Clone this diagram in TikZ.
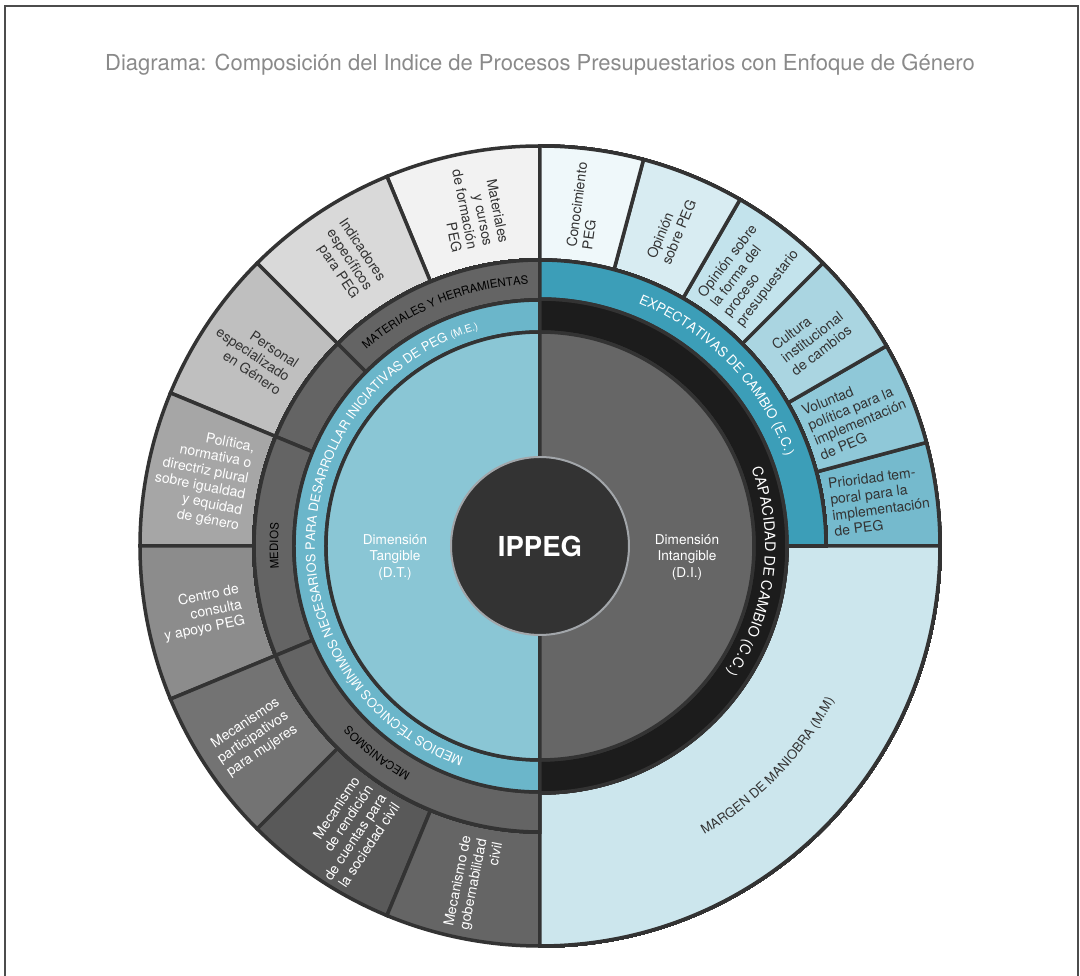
\documentclass[tikz,border=0pt]{standalone}
\usepackage{fontspec}
\setmainfont{TeX Gyre Heros}
\usepackage{tikz}
\usetikzlibrary{decorations.text}

\definecolor{borde}{HTML}{333333}
\definecolor{nucleo}{HTML}{333333}
\definecolor{aro}{HTML}{A2A6AA}
\definecolor{tangible}{HTML}{8AC6D5}
\definecolor{intangible}{HTML}{666666}
\definecolor{minimos}{HTML}{6BB6CA}
\definecolor{medios}{HTML}{646464}
\definecolor{capacidad}{HTML}{1C1C1C}
\definecolor{expectativas}{HTML}{3C9EB8}
\definecolor{margen}{HTML}{CCE6ED}
\definecolor{titulo}{HTML}{8A8A8A}
\definecolor{oscuro}{HTML}{333333}
\definecolor{gA}{HTML}{F2F2F2}
\definecolor{gB}{HTML}{D9D9D9}
\definecolor{gC}{HTML}{BFBFBF}
\definecolor{gD}{HTML}{A6A6A6}
\definecolor{gE}{HTML}{8C8C8C}
\definecolor{gF}{HTML}{737373}
\definecolor{gG}{HTML}{595959}
\definecolor{gH}{HTML}{656565}
\definecolor{bA}{HTML}{EFF8FA}
\definecolor{bB}{HTML}{D8ECF2}
\definecolor{bC}{HTML}{C3E3EC}
\definecolor{bD}{HTML}{AAD5E1}
\definecolor{bE}{HTML}{8FC8D8}
\definecolor{bF}{HTML}{75BACD}

\newcommand{\etiq}{\fontsize{14}{16}\selectfont}
\newcommand{\banda}{\fontsize{13.4}{15}\selectfont}
\newcommand{\chica}{\fontsize{11.5}{13}\selectfont}
% sector de anillo: r1, r2, angulo inicial, angulo final, relleno
\newcommand{\anillo}[5]{\filldraw[fill=#5] (#3:#1) arc[start angle=#3, end angle=#4, radius=#1] -- (#4:#2) arc[start angle=#4, end angle=#3, radius=#2] -- cycle;}

\begin{document}
\begin{tikzpicture}[x=1pt, y=1pt, line width=3.5pt, draw=borde,
		izq/.style={align=right, font=\etiq, inner sep=0pt},
		der/.style={align=left, font=\etiq, inner sep=0pt, text=oscuro}]
		\useasboundingbox (-540,-430) rectangle (540,546);
		\draw[line width=2pt, draw=black!70] (-535,-435) -- (-535,540) -- (538,540) -- (538,-435);
		\node[font=\fontsize{22}{26}\selectfont, text=titulo] (titulo) at (0,481) {Diagrama: Composición del Indice de Procesos Presupuestarios con Enfoque de Género};
		% anillo exterior
		\foreach \a/\b/\c in {90/112.5/gA, 112.5/135/gB, 135/157.5/gC, 157.5/180/gD, 180/202.5/gE, 202.5/225/gF, 225/247.5/gG, 247.5/270/gH}
			\anillo{286}{400}{\a}{\b}{\c}
		\foreach \a/\b/\c in {0/15/bF, 15/30/bE, 30/45/bD, 45/60/bC, 60/75/bB, 75/90/bA}
			\anillo{286}{400}{\a}{\b}{\c}
		\anillo{247}{400}{-90}{0}{margen}
		% anillo medio
		\foreach \a/\b in {90/135, 135/157.5, 157.5/202.5, 202.5/270}
			\anillo{246}{286}{\a}{\b}{medios}
		\anillo{247}{286}{0}{90}{expectativas}
		\anillo{214}{246}{90}{270}{minimos}
		\anillo{214}{247}{-90}{90}{capacidad}
		% disco interior
		\anillo{0}{214}{90}{270}{tangible}
		\anillo{0}{214}{-90}{90}{intangible}
		\node[circle, fill=nucleo, draw=aro, line width=2pt, minimum size=178pt, inner sep=0pt,
			text=white, font=\fontsize{27.5}{30}\selectfont\bfseries] (ippeg) at (0,0) {IPPEG};
		\node[font=\fontsize{13.6}{16.5}\selectfont, text=white, align=center] (dt) at (-145,-11) {Dimensión\\Tangible\\(D.T.)};
		\node[font=\fontsize{13.6}{16.5}\selectfont, text=white, align=center] (di) at (147,-11) {Dimensión\\Intangible\\(D.I.)};
		% textos curvos
		\path[decorate, decoration={text along path, text align=center,
			text={|\fontsize{12.8}{14}\selectfont\color{white}|MEDIOS TÉCNICOS MÍNIMOS NECESARIOS PARA DESARROLLAR INICIATIVAS DE PEG |\fontsize{10.5}{12}\selectfont\color{white}|(M.E.)}}]
			(262:225) arc[start angle=262, end angle=94, radius=225];
		\path[decorate, decoration={text along path, text align=center,
			text={|\banda\color{white}|EXPECTATIVAS DE CAMBIO (E.C.)}}]
			(88:262) arc[start angle=88, end angle=0, radius=262];
		\path[decorate, decoration={text along path, text align=center,
			text={|\fontsize{14.5}{16}\selectfont\color{white}|CAPACIDAD DE CAMBIO (C.C.)}}]
			(80:225) arc[start angle=80, end angle=-94, radius=225];
		\path[decorate, decoration={text along path, text align=center,
			text={|\fontsize{13}{15}\selectfont\color{oscuro}|MARGEN DE MANIOBRA (M.M)}}]
			(-88:332) arc[start angle=-88, end angle=0, radius=332];
		\path[decorate, decoration={text along path, text align=center,
			text={|\chica\color{black}|MATERIALES Y HERRAMIENTAS}}]
			(135:262) arc[start angle=135, end angle=89, radius=262];
		\path[decorate, decoration={text along path, text align=center,
			text={|\chica\color{black}|MEDIOS}}]
			(200:262) arc[start angle=200, end angle=160, radius=262];
		\path[decorate, decoration={text along path, text align=center,
			text={|\chica\color{black}|MECANISMOS}}]
			(260:262) arc[start angle=260, end angle=203.6, radius=262];
		% etiquetas del lado tangible
		\node[izq, text=oscuro, rotate=-78.75] (materiales) at (101.25:345) {Materiales\\y cursos\\de formación\\PEG};
		\node[izq, text=oscuro, rotate=-56.25] (indicadores) at (123.75:345) {Indicadores\\específicos\\para PEG};
		\node[izq, text=oscuro, rotate=-33.75] (personal) at (146.25:345) {Personal\\especializado\\en Género};
		\node[izq, text=white, rotate=-11.25] (politica) at (168.75:345) {Política,\\normativa o\\directriz plural\\sobre igualdad\\y equidad\\de género};
		\node[izq, text=white, rotate=11.25] (centro) at (191.25:345) {Centro de\\consulta\\y apoyo PEG};
		\node[izq, text=white, rotate=33.75] (participativos) at (213.75:345) {Mecanismos\\participativos\\para mujeres};
		\node[izq, text=white, rotate=56.25] (rendicion) at (236.25:345) {Mecanismo\\de rendición\\de cuentas para\\la sociedad civil};
		\node[izq, text=white, rotate=78.75] (gobernabilidad) at (258.75:345) {Mecanismo de\\gobernabilidad\\civil};
		% etiquetas del lado intangible
		\node[der, rotate=82.5] (conocimiento) at (82.5:343) {Conocimiento\\PEG};
		\node[der, rotate=67.5] (opinion) at (67.5:343) {Opinión\\sobre PEG};
		\node[der, rotate=52.5] (forma) at (52.5:343) {Opinión sobre\\la forma del\\proceso\\presupuestario};
		\node[der, rotate=37.5] (cultura) at (37.5:343) {Cultura\\institucional\\de cambios};
		\node[der, rotate=22.5] (voluntad) at (22.5:343) {Voluntad\\política para la\\implementación\\de PEG};
		\node[der, rotate=7.5] (prioridad) at (7.5:343) {Prioridad tem-\\poral para la\\implementación\\de PEG};
	\end{tikzpicture}
\end{document}
